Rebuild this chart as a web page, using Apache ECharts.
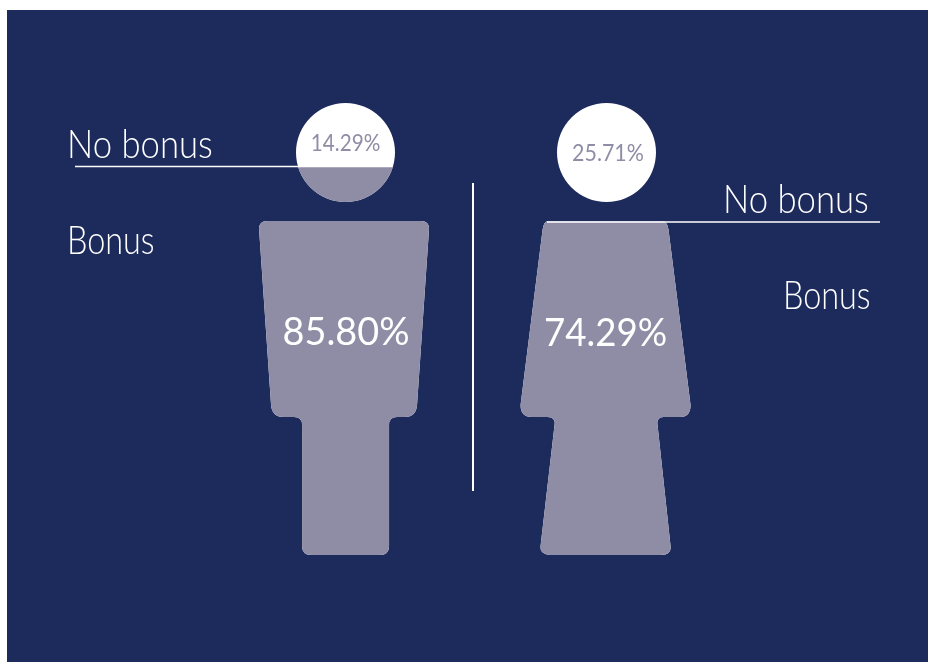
<!DOCTYPE html>
<html><head><meta charset="utf-8">
<style>html,body{margin:0;padding:0;background:#fff}#c{width:928px;height:662px}</style>
<script src="https://cdn.jsdelivr.net/npm/echarts@6/dist/echarts.min.js"></script>
</head><body><div id="c"></div>
<script>
const categories = ['Men', 'Women'];
const bonus = [85.80, 74.29];
const noBonus = [14.29, 25.71];
const whole = [100, 100];
const bonusLabel = 'Bonus';
const noBonusLabel = 'No bonus';

const NAVY = '#1D2B5C', LILAC = '#8F8DA5', WHITE = '#FFFFFF';
const FONT = 'Lato';

// Silhouette outlines (shape only; scaled into the bar by ECharts)
const manShape = 'path://M86.5 0A49.5 49.5 0 1 1 86.4 0Z' +
  'M8 118L162 118Q170 118 170 126L158 302Q157 314 146 314L138 314Q130 314 130 322L130 443Q130 452 121 452L52 452Q43 452 43 443L43 322Q43 314 35 314L24 314Q13 314 12 302L0 126Q0 118 8 118Z';
const womanShape = 'path://M86 0A49.5 49.5 0 1 1 85.9 0Z' +
  'M28 118L141 118Q147 118 148 127L170 302Q170 314 160 314L143 314Q136 314 137 322L150 443Q151 452 140 452L32 452Q19 452 20 443L34 322Q35 314 27 314L11 314Q0 314 0 302L22 127Q23 118 28 118Z';
const shapes = [manShape, womanShape];

const toItems = arr => arr.map((v, i) => ({ value: v, symbol: shapes[i] }));
const pct = v => v.toFixed(2) + '%';

function text(str, x, y, size, fill, align, sx, weight) {
  return { type: 'text', x, y, z: 20, scaleX: sx || 1, style: { text: str, fill, align: align || 'left', verticalAlign: 'middle',
    fontFamily: FONT, fontWeight: weight || 300, fontSize: size } };
}
function line(x1, y1, x2, y2, w) {
  return { type: 'line', z: 15, shape: { x1, y1, x2, y2 }, style: { stroke: WHITE, lineWidth: w } };
}

const chart = echarts.init(document.getElementById('c'));
chart.setOption({
  animation: false,
  backgroundColor: WHITE,
  grid: { left: 213.3, width: 523, top: 103, height: 452 },
  xAxis: { type: 'category', data: categories, show: false },
  yAxis: { type: 'value', min: 0, max: 100, show: false },
  series: [
    { type: 'pictorialBar', z: 3, data: toItems(whole), symbolSize: [170, '100%'], symbolBoundingData: 100,
      symbolPosition: 'start', itemStyle: { color: WHITE } },
    { type: 'pictorialBar', z: 4, data: toItems(bonus), symbolSize: [170, '100%'], symbolBoundingData: 100,
      symbolClip: true, symbolPosition: 'start', itemStyle: { color: LILAC } }
  ],
  graphic: { elements: [
    { type: 'rect', z: -10, silent: true, shape: { x: 7, y: 10, width: 921, height: 652 }, style: { fill: NAVY } },
    line(473, 183, 473, 491, 2),
    line(75, 166.5, 300, 166.5, 1.5),
    line(547, 222, 880, 222, 1.5),
    text(noBonusLabel, 67, 145, 39, WHITE, 'left', 0.89),
    text(bonusLabel, 67, 241, 39, WHITE, 'left', 0.83),
    text(noBonusLabel, 723, 200, 39, WHITE, 'left', 0.89),
    text(bonusLabel, 783, 296, 39, WHITE, 'left', 0.83),
    text(pct(noBonus[0]), 345.5, 144, 23, LILAC, 'center', 0.9, 400),
    text(pct(noBonus[1]), 608, 154, 23, LILAC, 'center', 0.93, 400),
    text(pct(bonus[0]), 346, 332, 39, WHITE, 'center', 0.97, 400),
    text(pct(bonus[1]), 605.5, 333, 39, WHITE, 'center', 0.94, 400)
  ] }
});
</script></body></html>
